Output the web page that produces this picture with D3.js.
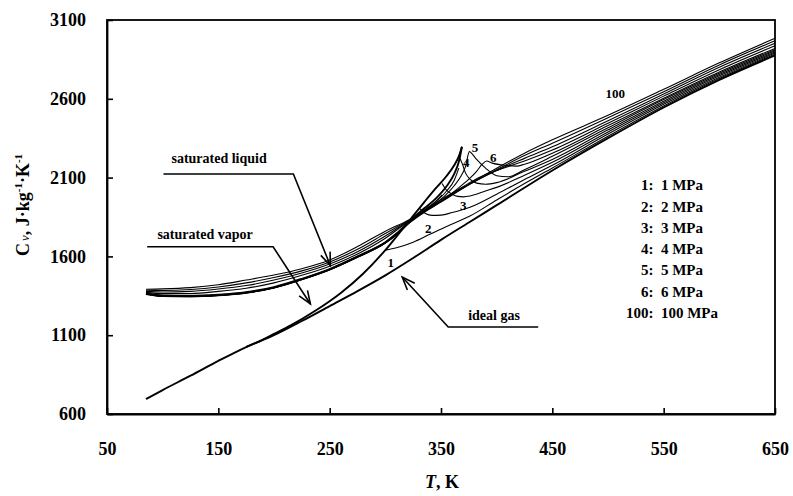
<!DOCTYPE html>
<html>
<head>
<meta charset="utf-8">
<script src="https://cdn.jsdelivr.net/npm/d3@7"></script>
<style>
  html, body { margin: 0; padding: 0; background: #fff; }
  svg { display: block; }
  text { font-family: "Liberation Serif", "Times New Roman", serif; font-weight: bold; fill: #000; }
</style>
</head>
<body>
<svg id="chart" width="793" height="496"></svg>
<script>
// Isochoric heat capacity Cv (J/(kg·K)) of propane versus temperature T (K)
const xTicks = [50, 150, 250, 350, 450, 550, 650];
const yTicks = [600, 1100, 1600, 2100, 2600, 3100];

// ideal gas
const idealGas = [[85,695],[100,752],[125,843],[150,937],[175,1025],[200,1100],[225,1190],[250,1285],
  [275,1380],[300,1480],[325,1590],[350,1705],[375,1815],[400,1925],[450,2145],[500,2350],[550,2545],[600,2720],[650,2875]];

// saturation lines
const satVapor = [[175,1025],[190,1072],[200,1108],[215,1162],[236,1250],[260,1368],[280,1490],[300,1640],[315,1770],
  [322,1831],[335,1945],[345,2030],[355,2110],[362,2180],[366,2235],[368.8,2296]];
const satLiquid = [[85,1366],[100,1352],[125,1350],[150,1357],[175,1373],[200,1405],[225,1458],[250,1520],
  [275,1600],[300,1690],[310,1745],[322,1828],[335,1905],[345,1965],[355,2045],[362,2125],[366,2200],[368.8,2296]];

// isobars, subcritical: liquid and vapour branches
const p1Liquid = [[85,1364],[100,1351],[125,1349],[150,1356],[175,1372],[200,1404],[225,1457],[250,1519],[275,1599],[300,1689]];
const p1Vapor = [[300,1640],[310,1655],[325,1690],[340,1740],[355,1790],[376,1856],[400,1958],[425,2062],[450,2161],
  [500,2363],[550,2555],[600,2729],[650,2883]];
const p2Liquid = [[85,1363],[100,1350],[125,1348],[150,1355],[175,1371],[200,1403],[225,1456],[250,1518],[275,1598],
  [300,1688],[310,1742],[322,1824],[331,1875]];
const p2Vapor = [[331,1903],[336,1872],[342,1860],[350,1862],[360,1878],[376,1912],[400,1995],[425,2088],[450,2178],
  [500,2376],[550,2565],[600,2737],[650,2890]];
const p3Liquid = [[85,1362],[100,1349],[125,1347],[150,1354],[175,1370],[200,1402],[225,1455],[250,1517],[275,1597],
  [300,1687],[310,1740],[322,1820],[335,1893],[345,1948],[351,1990]];
const p3Vapor = [[351,2063],[355,2020],[360,1995],[365,1981],[370,1978],[376,1983],[390,2015],[400,2038],[425,2115],
  [450,2197],[500,2390],[550,2575],[600,2746],[650,2897]];
const p4Liquid = [[85,1361],[100,1348],[125,1346],[150,1353],[175,1369],[200,1401],[225,1454],[250,1516],[275,1596],
  [300,1686],[310,1739],[322,1818],[335,1890],[345,1945],[355,2015],[362,2085],[366,2160]];
const p4Vapor = [[366,2235],[369,2190],[372,2130],[376,2090],[382,2065],[390,2058],[400,2068],[425,2140],[450,2215],
  [500,2403],[550,2585],[600,2754],[650,2905]];

// isobars, supercritical
const p5 = [[85,1360],[100,1347],[125,1345],[150,1352],[175,1368],[200,1400],[225,1453],[250,1515],[275,1595],
  [300,1685],[310,1738],[322,1816],[335,1885],[345,1935],[355,1995],[362,2050],[368,2110],[372,2170],[375.5,2265],
  [378,2250],[382,2215],[390,2160],[400,2112],[410,2105],[425,2150],[450,2235],[500,2416],[550,2595],[600,2762],[650,2912]];
const p6 = [[85,1359],[100,1346],[125,1344],[150,1351],[175,1367],[200,1399],[225,1452],[250,1514],[275,1594],
  [300,1684],[310,1737],[322,1814],[335,1880],[345,1925],[355,1975],[365,2030],[375,2090],[382,2140],[387,2185],
  [391,2205],[396,2192],[405,2180],[418,2173],[425,2185],[450,2255],[500,2430],[550,2603],[600,2770],[650,2920]];
const p10 = [[85,1372],[100,1364],[125,1365],[150,1378],[175,1398],[200,1432],[225,1480],[250,1538],[275,1615],
  [300,1715],[322,1829],[350,1950],[375,2065],[390,2120],[400,2145],[425,2205],[450,2275],[500,2445],[550,2617],[600,2785],[650,2937]];
const p20 = [[85,1378],[100,1374],[125,1378],[150,1393],[175,1415],[200,1450],[225,1495],[250,1552],[275,1630],
  [300,1730],[322,1830],[350,1945],[375,2055],[400,2145],[425,2222],[450,2295],[500,2460],[550,2630],[600,2800],[650,2952]];
const p50 = [[85,1385],[100,1384],[125,1390],[150,1406],[175,1432],[200,1466],[225,1508],[250,1565],[275,1645],
  [300,1745],[322,1832],[350,1950],[375,2055],[400,2150],[425,2240],[450,2318],[500,2480],[550,2645],[600,2815],[650,2968]];
const p100 = [[85,1392],[100,1394],[125,1402],[150,1420],[175,1450],[200,1482],[225,1522],[250,1577],[275,1663],
  [300,1760],[322,1835],[350,1960],[375,2060],[400,2160],[425,2255],[450,2340],[500,2495],[550,2660],[600,2828],[650,2984]];

// curve number labels: [text, T, Cv]
const curveLabels = [["1",304.8,1564],["2",338.5,1780],["3",369.9,1926],["4",372.6,2193],
  ["5",380.5,2290],["6",396.9,2231],["100",506.4,2637]];

// legend entries
const legendKeys = ["1", "2", "3", "4", "5", "6", "100"];
const legendPressures = ["1 MPa", "2 MPa", "3 MPa", "4 MPa", "5 MPa", "6 MPa", "100 MPa"];

// annotations: label, text anchor point, leader start, elbow, arrow tip  (T, Cv)
const annotations = [
  { text: "saturated liquid", at: [107.9, 2192], path: [[100.7, 2123], [217.4, 2123], [250.6, 1542]] },
  { text: "saturated vapor",  at: [95.3, 1710],  path: [[86.1, 1661], [199.2, 1661], [232.7, 1298]] },
  { text: "ideal gas",        at: [374.4, 1196], path: [[437.3, 1152], [356.5, 1152], [315.2, 1469]] }
];

const svg = d3.select("#chart");
const W = 793, H = 496;
const margin = { top: 20, right: 18, bottom: 82, left: 107 };

const x = d3.scaleLinear().domain([50, 650]).range([margin.left, W - margin.right]);
const y = d3.scaleLinear().domain([600, 3100]).range([H - margin.bottom, margin.top]);

const line = d3.line().x(d => x(d[0])).y(d => y(d[1])).curve(d3.curveMonotoneX);

const plot = svg.append("g");

const thin = [p1Liquid, p1Vapor, p2Liquid, p2Vapor, p3Liquid, p3Vapor, p4Liquid, p4Vapor, p5, p6, p10, p20, p50, p100];
plot.selectAll("path.isobar").data(thin).join("path")
  .attr("class", "isobar")
  .attr("d", line)
  .attr("fill", "none")
  .attr("stroke", "#000")
  .attr("stroke-width", 1.1);

plot.selectAll("path.main").data([idealGas, satVapor, satLiquid]).join("path")
  .attr("class", "main")
  .attr("d", line)
  .attr("fill", "none")
  .attr("stroke", "#000")
  .attr("stroke-width", 1.9);

// frame
svg.append("rect")
  .attr("x", x(50)).attr("y", y(3100))
  .attr("width", x(650) - x(50)).attr("height", y(600) - y(3100))
  .attr("fill", "none").attr("stroke", "#000").attr("stroke-width", 1.8);

// axes
const yAxis = svg.append("g")
  .attr("transform", `translate(${x(50)},0)`)
  .call(d3.axisLeft(y).tickValues(yTicks).tickFormat(d3.format("d")).tickSizeInner(-6).tickSizeOuter(0).tickPadding(21));
const xAxis = svg.append("g")
  .attr("transform", `translate(0,${y(600)})`)
  .call(d3.axisBottom(x).tickValues(xTicks).tickFormat(d3.format("d")).tickSizeInner(-6).tickSizeOuter(0).tickPadding(28));
[yAxis, xAxis].forEach(g => {
  g.select(".domain").attr("stroke", "#000").attr("stroke-width", 1.8);
  g.selectAll(".tick line").attr("stroke", "#000").attr("stroke-width", 1.6);
  g.selectAll(".tick text").attr("font-family", "Liberation Serif, serif").attr("font-weight", "bold")
    .attr("font-size", 18).attr("fill", "#000");
});

// axis titles
const yTitle = svg.append("text")
  .attr("transform", "translate(29,205) rotate(-90)")
  .attr("text-anchor", "middle")
  .attr("font-size", 18);
yTitle.append("tspan").text("C");
yTitle.append("tspan").attr("font-style", "italic").attr("font-weight", "normal").attr("font-size", 13).attr("dx", 2).text("v");
yTitle.append("tspan").text(", J·kg");
yTitle.append("tspan").attr("font-size", 11).attr("dy", -7).text("-1");
yTitle.append("tspan").attr("dy", 7).text("·K");
yTitle.append("tspan").attr("font-size", 11).attr("dy", -7).text("-1");

const xTitle = svg.append("text")
  .attr("x", 442).attr("y", 488)
  .attr("text-anchor", "middle")
  .attr("font-size", 18);
xTitle.append("tspan").attr("font-style", "italic").text("T");
xTitle.append("tspan").text(", K");

// curve numbers
svg.selectAll("text.clabel").data(curveLabels).join("text")
  .attr("class", "clabel")
  .attr("x", d => x(d[1])).attr("y", d => y(d[2]))
  .attr("dy", "0.35em")
  .attr("text-anchor", "middle")
  .attr("font-size", 13)
  .text(d => d[0]);

// annotations with arrows
const defs = svg.append("defs");
defs.append("marker")
  .attr("id", "arrow")
  .attr("markerUnits", "userSpaceOnUse")
  .attr("viewBox", "-14 -7 16 14")
  .attr("markerWidth", 16).attr("markerHeight", 14)
  .attr("refX", 0).attr("refY", 0)
  .attr("orient", "auto")
  .append("path")
  .attr("d", "M-13,-5 L0,0 L-13,5")
  .attr("fill", "none").attr("stroke", "#000").attr("stroke-width", 1.6);

const ann = svg.append("g");
ann.selectAll("path").data(annotations).join("path")
  .attr("d", d => d3.line().x(p => x(p[0])).y(p => y(p[1]))(d.path))
  .attr("fill", "none").attr("stroke", "#000").attr("stroke-width", 1.6)
  .attr("marker-end", "url(#arrow)");
ann.selectAll("text").data(annotations).join("text")
  .attr("x", d => x(d.at[0])).attr("y", d => y(d.at[1]))
  .attr("font-size", 14)
  .text(d => d.text);

// legend
const legend = svg.append("g").attr("transform", "translate(672,185)");
legend.selectAll("text").data(legendKeys).join("text")
  .attr("x", 0).attr("y", (d, i) => i * 21.3)
  .attr("dy", "0.35em")
  .attr("text-anchor", "middle")
  .attr("font-size", 15)
  .text((d, i) => `${d}:\u00a0\u00a0${legendPressures[i]}`);
</script>
</body>
</html>
